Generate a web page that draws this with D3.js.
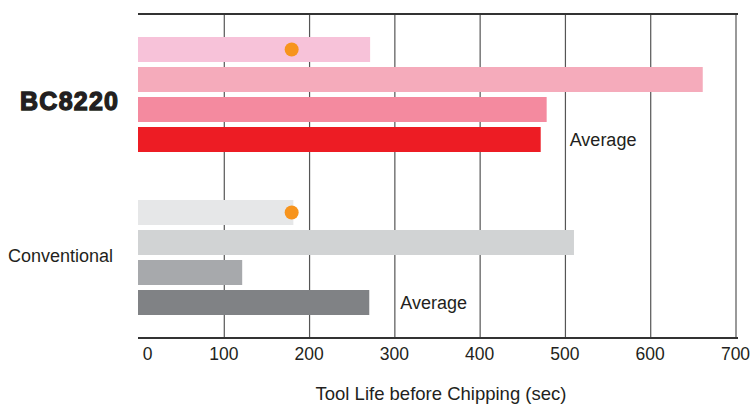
<!DOCTYPE html>
<html><head><meta charset="utf-8">
<script src="https://cdn.jsdelivr.net/npm/d3@7/dist/d3.min.js"></script>
<style>body{margin:0;background:#fff}svg{display:block}text{font-family:"Liberation Sans",Arial,sans-serif}</style>
</head><body>
<svg id="c" width="753" height="405"></svg>
<script>
const categories = ["BC8220", "Conventional"];
const rowNames = ["r1", "r2", "r3", "Average"];
const bc8220Values = [271, 661, 478, 471];
const conventionalValues = [181, 510, 121, 270];
const dotValues = [179, 179];
const xTicks = [0, 100, 200, 300, 400, 500, 600, 700];
const axisTitle = "Tool Life before Chipping (sec)";
const averageLabel = "Average";

(function () {
const palettes = [
  ["#f7c2d9", "#f5abbb", "#f48a9f", "#ed1c24"],
  ["#e6e7e8", "#d1d3d4", "#a7a9ac", "#808285"]
];
const values = [bc8220Values, conventionalValues];

const svg = d3.select("#c");
const x = d3.scaleLinear().domain([0, 700]).range([139, 736]);
const yG = d3.scaleBand().domain(categories).range([37, 315]).paddingInner(48/163).paddingOuter(0);
const yR = d3.scaleBand().domain(rowNames).range([0, 115]).paddingInner(5/30).paddingOuter(0);
const yTop = 14, yBottom = 338;

// gridlines
svg.append("g").selectAll("line").data(xTicks.slice(1)).join("line")
  .attr("x1", d => x(d)).attr("x2", d => x(d)).attr("y1", yTop).attr("y2", yBottom)
  .attr("stroke", "#555").attr("stroke-width", 1.2);

// bars
categories.forEach((cat, gi) => {
  const g = svg.append("g").attr("transform", `translate(0,${yG(cat)})`);
  g.selectAll("rect").data(values[gi]).join("rect")
    .attr("x", x(0) - 1).attr("y", (d, i) => yR(rowNames[i]))
    .attr("width", d => x(d) - x(0) + 1).attr("height", yR.bandwidth())
    .attr("fill", (d, i) => palettes[gi][i]);
  g.append("circle").attr("cx", x(dotValues[gi])).attr("cy", yR(rowNames[0]) + yR.bandwidth()/2)
    .attr("r", 7).attr("fill", "#f7941d");
  g.append("text").attr("x", x(values[gi][3]) + (gi === 0 ? 29 : 31))
    .attr("y", yR("Average") + yR.bandwidth()/2 + 6.5)
    .attr("font-size", 18).attr("fill", "#231f20").text(averageLabel);
});

// top and bottom lines
svg.append("line").attr("x1", 138).attr("x2", 738).attr("y1", yTop).attr("y2", yTop)
  .attr("stroke", "#333").attr("stroke-width", 2.2);
const xAxis = d3.axisBottom(x).tickValues(xTicks).tickSize(0).tickPadding(10).tickFormat(d3.format("d"));
const ax = svg.append("g").attr("transform", `translate(0,${yBottom})`).call(xAxis);
ax.select(".domain").remove();
ax.append("line").attr("x1", 138).attr("x2", 738).attr("stroke", "#333").attr("stroke-width", 2);
ax.selectAll(".tick text").attr("font-size", 17.5).attr("fill", "#231f20")
  .attr("font-family", "Liberation Sans, Arial, sans-serif")
  .attr("dx", d => d === 0 ? 8 : -1);

svg.append("text").attr("x", 441).attr("y", 400).attr("text-anchor", "middle")
  .attr("font-size", 18.5).attr("fill", "#231f20").text(axisTitle);

// category labels
svg.append("text").attr("x", 20).attr("y", 110)
  .attr("font-size", 25).attr("font-weight", "bold").attr("fill", "#231f20")
  .attr("stroke", "#231f20").attr("stroke-width", 1.3).attr("textLength", 98).text(categories[0]);
svg.append("text").attr("x", 8).attr("y", yG("Conventional") + 62)
  .attr("font-size", 18).attr("fill", "#231f20").text(categories[1]);
})();
</script>
</body></html>
